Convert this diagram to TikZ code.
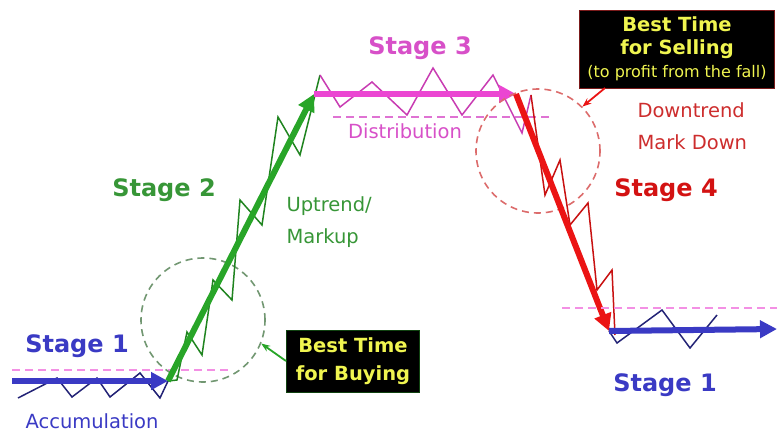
\documentclass[tikz,border=0pt]{standalone}
\usepackage{fontspec}
\setmainfont{DejaVu Sans}
\usepackage{tikz}
\usetikzlibrary{positioning, arrows.meta}

\definecolor{stblue}{RGB}{58,58,196}
\definecolor{stgreen}{RGB}{40,165,40}
\definecolor{stpink}{RGB}{235,70,210}
\definecolor{stred}{RGB}{235,20,20}
\definecolor{txgreen}{RGB}{55,150,55}
\definecolor{txpink}{RGB}{215,80,200}
\definecolor{txred}{RGB}{205,45,45}
\definecolor{boxyellow}{RGB}{240,245,80}

\begin{document}
\begin{tikzpicture}[x=1pt, y=-1pt,
    trend/.style={line width=6pt, -{Triangle[length=17pt, width=17pt]}},
    wiggle/.style={line width=1.5pt, line join=miter},
    level/.style={dashed, line width=1.6pt, dash pattern=on 8pt off 5pt},
    ring/.style={dashed, line width=1.6pt, dash pattern=on 7pt off 5pt},
    stage/.style={font=\fontsize{24}{28}\selectfont\bfseries},
    phase/.style={font=\fontsize{19.5}{32}\selectfont, align=left, anchor=west},
    tip/.style={fill=black, text=boxyellow, align=center, inner sep=2pt, line width=1pt}]
    \useasboundingbox (0,0) rectangle (777,437);

    % stage 1, accumulation
    \coordinate (s1a) at (12,381);
    \coordinate (s2a) at (168,381);
    \draw[level, color=stpink!60] (12,370) -- (228,370);
    \draw[wiggle, color=stblue!60!black] (18,398) -- (57,378) -- (72,397) -- (97,378) -- (110,397) -- (140,373) -- (160,398) -- (s2a);
    \draw[trend, color=stblue] (s1a) -- (s2a);
    \node (stage1a) [stage, text=stblue] at (77,346) {Stage 1};
    \node (accum) [font=\fontsize{19.5}{22}\selectfont, text=stblue] at (92,421) {Accumulation};

    % stage 2, markup
    \coordinate (s3a) at (314,94);
    \node (buycircle) [draw=black!50!stgreen!60, ring, circle, minimum size=124pt] at (203,320) {};
    \draw[wiggle, color=stgreen!80!black] (s2a) -- (177,380) -- (187,332) -- (202,355) -- (213,280) -- (232,300) -- (240,200) -- (262,225) -- (278,117) -- (300,155) -- (320,75);
    \draw[trend, color=stgreen] (s2a) -- (s3a);
    \node (stage2) [stage, text=txgreen] at (164,190) {Stage 2};
    \node (uptrend) [phase, text=txgreen] at (283,222) {Uptrend/\\Markup};
    \node (buy) [tip, draw=black!60!stgreen, minimum width=133pt, minimum height=62pt, font=\fontsize{19.5}{28}\selectfont\bfseries] at (353,361) {Best Time\\for Buying};
    \draw[-{Stealth[length=9pt]}, line width=1.8pt, color=stgreen] (buy.west) -- (buycircle.-22);

    % stage 3, distribution
    \coordinate (s4a) at (516,94);
    \draw[level, color=txpink!80] (333,117) -- (550,117);
    \draw[wiggle, color=stpink!85!black] (320,75) -- (340,107) -- (372,82) -- (407,115) -- (433,68) -- (462,115) -- (493,75) -- (522,133) -- (531,95);
    \draw[trend, color=stpink] (s3a) -- (s4a);
    \node (stage3) [stage, text=txpink] at (420,48) {Stage 3};
    \node (distrib) [font=\fontsize{19.5}{22}\selectfont, text=txpink] at (405,131) {Distribution};

    % stage 4, markdown
    \coordinate (s1b) at (609,331);
    \node (sellcircle) [draw=txred!70, ring, circle, minimum size=124pt] at (538,151) {};
    \draw[wiggle, color=stred!85!black] (531,95) -- (545,195) -- (560,160) -- (570,225) -- (588,203) -- (597,290) -- (612,270) -- (615,335);
    \draw[trend, color=stred] (s4a) -- (s1b);
    \node (stage4) [stage, text=stred!90!black] at (666,190) {Stage 4};
    \node (downtrend) [phase, text=txred] at (634,126) {Downtrend\\Mark Down};
    \node (sell) [tip, draw=txred!60!black, minimum width=195pt, minimum height=78pt, font=\fontsize{19.5}{23}\selectfont\bfseries] at (677,49)
        {Best Time\\for Selling\\\fontsize{16}{21}\selectfont\mdseries (to profit from the fall)};
    \coordinate (sellfoot) at (605,88);
    \draw[-{Stealth[length=9pt]}, line width=1.8pt, color=stred] (sellfoot) -- (sellcircle.north east);

    % stage 1 again
    \coordinate (s1end) at (777,329);
    \draw[level, color=stpink!60] (562,308) -- (777,308);
    \draw[wiggle, color=stblue!60!black] (s1b) -- (617,343) -- (662,310) -- (690,348) -- (717,315);
    \draw[trend, color=stblue] (s1b) -- (s1end);
    \node (stage1b) [stage, text=stblue] at (665,385) {Stage 1};
\end{tikzpicture}
\end{document}
